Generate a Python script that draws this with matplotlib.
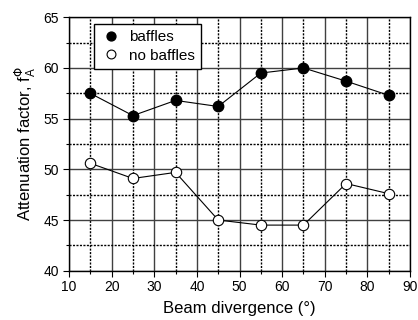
import matplotlib.pyplot as plt
from matplotlib.ticker import MultipleLocator

plt.rcParams['font.family'] = ['Liberation Sans', 'DejaVu Sans']

divergence = [15, 25, 35, 45, 55, 65, 75, 85]
baffles = [57.5, 55.3, 56.8, 56.2, 59.5, 60.0, 58.7, 57.3]
no_baffles = [50.6, 49.1, 49.7, 45.0, 44.5, 44.5, 48.6, 47.6]

fig = plt.figure(figsize=(4.18, 3.2), dpi=100)
ax = fig.add_axes([0.165, 0.154, 0.816, 0.792])

ax.plot(divergence, baffles, color='black', lw=0.8, marker='o', ms=7.5,
        mfc='black', mec='black', label='baffles', zorder=3)
ax.plot(divergence, no_baffles, color='black', lw=0.8, marker='o', ms=7.5,
        mfc='white', mec='black', mew=0.8, label='no baffles', zorder=3)

ax.set_xlim(10, 90)
ax.set_ylim(40, 65)
ax.xaxis.set_major_locator(MultipleLocator(10))
ax.xaxis.set_minor_locator(MultipleLocator(5))
ax.yaxis.set_major_locator(MultipleLocator(5))
ax.yaxis.set_minor_locator(MultipleLocator(2.5))

ax.grid(which='major', color='0.25', lw=1.0, ls='-')
ax.grid(which='minor', color='black', lw=1.0, ls=(0, (1.5, 1)))
ax.set_axisbelow(True)

ax.tick_params(which='major', direction='out', length=4, width=0.8,
               labelsize=10, pad=3)
ax.tick_params(which='minor', direction='out', length=2, width=0.8)
for s in ax.spines.values():
    s.set_linewidth(1.0)

ax.set_xlabel('Beam divergence (°)', fontsize=12, labelpad=5)
ax.set_ylabel(r'Attenuation factor, f$_\mathregular{A}^{\Phi}$', fontsize=12, labelpad=4)

leg = ax.legend(loc='upper left', bbox_to_anchor=(0.073, 0.974), fontsize=11,
                frameon=True, fancybox=False, edgecolor='black',
                handletextpad=0.5, borderpad=0.4, labelspacing=0.3,
                handlelength=1.4, borderaxespad=0, markerscale=0.85)
leg.get_frame().set_linewidth(1.0)
leg.get_frame().set_alpha(1)
# markers only in the legend, no connecting line
for h in leg.legend_handles:
    h.set_linestyle('none')

fig.savefig('out.png', dpi=100)
